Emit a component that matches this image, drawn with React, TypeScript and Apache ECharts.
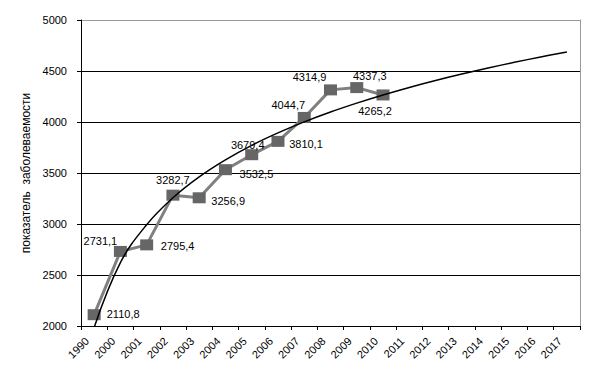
import React, { useEffect, useRef } from "react";
import * as echarts from "echarts";

const categories = [
  "1990", "2000", "2001", "2002", "2003", "2004", "2005", "2006", "2007", "2008",
  "2009", "2010", "2011", "2012", "2013", "2014", "2015", "2016", "2017",
];
const incidence = [
  2110.8, 2731.1, 2795.4, 3282.7, 3256.9, 3532.5, 3679.4, 3810.1, 4044.7, 4314.9, 4337.3, 4265.2,
];
const trend = [
  1985, 2621, 2993, 3257, 3462, 3629, 3771, 3893, 4001, 4098, 4185, 4265, 4339, 4407, 4470, 4529,
  4585, 4637, 4687,
];
const yTicks = [2000, 2500, 3000, 3500, 4000, 4500, 5000];
const labelOffsets: [number, number][] = [
  [29, -1], [-20, -10], [31, 1], [0, -15], [29, 3], [31, 4],
  [-4, -10], [28, 3], [-16, -12], [-21, -13], [13, -12], [-8, 16],
];

const fmt = (v: number) => v.toFixed(1).replace(".", ",");

export default function App() {
  const ref = useRef<HTMLDivElement>(null);
  useEffect(() => {
    if (!ref.current) return;
    const chart = echarts.init(ref.current, null, { renderer: "svg" });
    const font = "Liberation Sans, Arial, sans-serif";
    chart.setOption({
      animation: false,
      backgroundColor: "#ffffff",
      grid: { left: 81, right: 24, top: 20, bottom: 41, containLabel: false },
      xAxis: {
        type: "category",
        data: categories,
        boundaryGap: true,
        axisLine: { show: true, lineStyle: { color: "#000", width: 1 } },
        axisTick: { show: true, length: 4, interval: 0, lineStyle: { color: "#000" } },
        axisLabel: {
          interval: 0,
          rotate: 45,
          fontSize: 11,
          fontFamily: font,
          color: "#000",
          margin: 6,
          padding: [0, 10, 0, 0],
        },
        splitLine: { show: false },
      },
      yAxis: [
        {
          type: "value",
          min: yTicks[0],
          max: yTicks[yTicks.length - 1],
          interval: 500,
          name: "показатель  заболеваемости",
          nameLocation: "middle",
          nameGap: 43,
          nameTextStyle: { fontSize: 12, fontFamily: font, color: "#000" },
          axisLine: { show: true, lineStyle: { color: "#000", width: 1 } },
          axisTick: { show: true, length: 4, lineStyle: { color: "#000" } },
          axisLabel: {
            fontSize: 11,
            fontFamily: font,
            color: "#000",
            margin: 14,
            formatter: (v: number) => String(v),
          },
          splitLine: {
            show: true,
            lineStyle: {
              color: ["#000", "#000", "#000", "#000", "#000", "#000", "#999"],
              width: 1,
            },
          },
        },
        {
          type: "value",
          min: yTicks[0],
          max: yTicks[yTicks.length - 1],
          interval: 500,
          position: "right",
          axisLine: { show: true, lineStyle: { color: "#999", width: 1 } },
          axisTick: { show: false },
          axisLabel: { show: false },
          splitLine: { show: false },
        },
      ],
      series: [
        {
          type: "line",
          data: incidence.map((v, i) => ({
            value: v,
            label: {
              show: true,
              position: "inside",
              offset: labelOffsets[i],
              formatter: fmt(v),
            },
          })),
          symbol: "rect",
          symbolSize: [13, 11],
          itemStyle: { color: "#666666" },
          lineStyle: { color: "#808080", width: 3 },
          label: { fontSize: 11, fontFamily: font, color: "#000" },
          z: 2,
        },
        {
          type: "line",
          data: trend,
          smooth: 0.4,
          symbol: "none",
          clip: true,
          lineStyle: { color: "#000", width: 1.5 },
          z: 3,
        },
      ],
    });
    return () => chart.dispose();
  }, []);
  return (
    <div
      ref={ref}
      style={{ position: "fixed", left: 0, top: 0, width: 604, height: 367 }}
    />
  );
}
